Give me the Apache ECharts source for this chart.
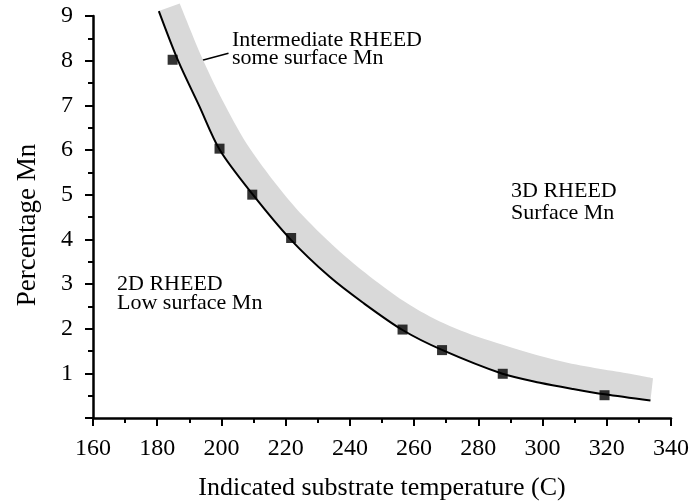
<!DOCTYPE html>
<html>
<head>
<meta charset="utf-8">
<script src="https://cdn.jsdelivr.net/npm/echarts@6/dist/echarts.min.js"></script>
<style>
  html, body { margin: 0; padding: 0; background: #fff; }
  #chart { width: 691px; height: 504px; }
</style>
</head>
<body>
<div id="chart"></div>
<script>
const xTicks = [160, 180, 200, 220, 240, 260, 280, 300, 320, 340];
const yTicks = [1, 2, 3, 4, 5, 6, 7, 8, 9];

// measured points (temperature C, % Mn)
const measured = [
  [184.8, 8.02], [199.4, 6.03], [209.6, 5.0], [221.7, 4.03],
  [256.4, 1.98], [268.7, 1.52], [287.6, 0.99], [319.3, 0.51]
];

// black guide curve
const guideCurve = [
  [180.5, 9.11], [186.5, 8.0], [193, 7.0], [199.5, 6.0], [209.8, 5.0],
  [221.5, 4.0], [233.7, 3.16], [244.1, 2.58], [256.4, 1.97], [268.5, 1.53],
  [287.5, 0.99], [299.2, 0.79], [309.5, 0.65], [319.4, 0.53], [333.6, 0.39]
];

// upper edge of the grey band
const bandUpper = [
  [187.0, 9.28], [194.3, 8.01], [201.3, 6.98], [208.8, 6.04], [219.2, 5.04],
  [227.5, 4.37], [236.9, 3.72], [246.2, 3.17], [258.7, 2.53], [271.1, 2.06],
  [285.8, 1.68], [306.4, 1.26], [327.2, 0.99], [334.4, 0.89]
];

const notes = [
  { text: "Intermediate RHEED", x: 232, y: 29 },
  { text: "some surface Mn", x: 232, y: 47 },
  { text: "3D RHEED", x: 511, y: 180 },
  { text: "Surface Mn", x: 511, y: 202 },
  { text: "2D RHEED", x: 117, y: 273 },
  { text: "Low surface Mn", x: 117, y: 292 }
];

const FONT = '"Liberation Serif", "Times New Roman", serif';

const chart = echarts.init(document.getElementById("chart"), null, { renderer: "canvas" });

// smooth path through pixel points (catmull-rom as cubic bezier)
function splinePath(pts, moveFirst) {
  let d = (moveFirst ? "M" : "L") + pts[0][0] + " " + pts[0][1];
  for (let i = 0; i < pts.length - 1; i++) {
    const p0 = pts[Math.max(i - 1, 0)];
    const p1 = pts[i];
    const p2 = pts[i + 1];
    const p3 = pts[Math.min(i + 2, pts.length - 1)];
    const c1 = [p1[0] + (p2[0] - p0[0]) / 6, p1[1] + (p2[1] - p0[1]) / 6];
    const c2 = [p2[0] - (p3[0] - p1[0]) / 6, p2[1] - (p3[1] - p1[1]) / 6];
    d += " C" + c1.join(" ") + " " + c2.join(" ") + " " + p2.join(" ");
  }
  return d;
}

function renderBand(params, api) {
  const upper = bandUpper.map((p) => api.coord(p));
  const lower = guideCurve.slice().reverse().map((p) => api.coord(p));
  return {
    type: "path",
    shape: { pathData: splinePath(upper, true) + " " + splinePath(lower, false) + " Z" },
    style: { fill: "#d9d9d9", stroke: null }
  };
}

chart.setOption({
  animation: false,
  backgroundColor: "#fff",
  grid: { left: 93, right: 20, top: 16, bottom: 86, outerBoundsMode: "none" },
  xAxis: {
    type: "value",
    min: xTicks[0],
    max: xTicks[xTicks.length - 1],
    interval: 20,
    name: "Indicated substrate temperature (C)",
    nameLocation: "middle",
    nameGap: 57,
    nameTextStyle: { fontFamily: FONT, fontSize: 26, color: "#000" },
    splitLine: { show: false },
    axisLine: { lineStyle: { color: "#000", width: 2.5 } },
    axisTick: { length: 8, lineStyle: { color: "#000", width: 2 } },
    minorTick: { show: true, splitNumber: 2, length: 5, lineStyle: { color: "#000", width: 2 } },
    axisLabel: { fontFamily: FONT, fontSize: 24, color: "#000", margin: 19 }
  },
  yAxis: {
    type: "value",
    min: 0,
    max: 9,
    interval: 1,
    name: "Percentage Mn",
    nameLocation: "middle",
    nameGap: 52,
    nameTextStyle: { fontFamily: FONT, fontSize: 27, color: "#000", padding: [0, 16, 0, 0] },
    splitLine: { show: false },
    axisLine: { show: true, lineStyle: { color: "#000", width: 2.5 } },
    axisTick: { show: true, length: 8, lineStyle: { color: "#000", width: 2 } },
    minorTick: { show: true, splitNumber: 2, length: 5, lineStyle: { color: "#000", width: 2 } },
    axisLabel: {
      fontFamily: FONT, fontSize: 24, color: "#000", margin: 20,
      formatter: (v) => (yTicks.includes(v) ? String(v) : "")
    }
  },
  series: [
    {
      type: "custom",
      renderItem: renderBand,
      data: [[0, 0]],
      clip: false,
      silent: true,
      z: 1
    },
    {
      type: "line",
      data: guideCurve,
      smooth: 0.3,
      showSymbol: false,
      clip: false,
      lineStyle: { color: "#000", width: 2 },
      z: 2
    },
    {
      type: "scatter",
      data: measured,
      symbol: "rect",
      symbolSize: 10,
      itemStyle: { color: "#000" },
      z: 3
    }
  ],
  graphic: notes.map((n) => ({
    type: "text",
    x: n.x,
    y: n.y,
    style: { text: n.text, font: `22px ${FONT}`, fill: "#000" }
  })).concat([{
    type: "line",
    shape: { x1: 194, y1: 62.5, x2: 228.5, y2: 53.3 },
    style: { stroke: "#000", lineWidth: 1.5 }
  }])
});
</script>
</body>
</html>
